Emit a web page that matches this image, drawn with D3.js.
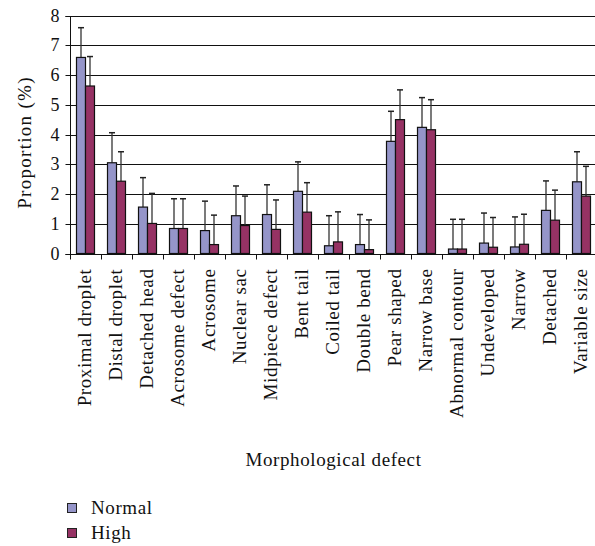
<!DOCTYPE html>
<html><head><meta charset="utf-8">
<script src="https://cdn.jsdelivr.net/npm/d3@7/dist/d3.min.js"></script>
<style>body{margin:0;background:#fff}svg{display:block}text{font-family:"Liberation Serif","Times New Roman",serif;fill:#111}</style>
</head><body>
<script>
const categories = ["Proximal droplet","Distal droplet","Detached head","Acrosome defect","Acrosome","Nuclear sac","Midpiece defect","Bent tail","Coiled tail","Double bend","Pear shaped","Narrow base","Abnormal contour","Undeveloped","Narrow","Detached","Variable size"];
const normalValues = [6.59,3.05,1.56,0.84,0.77,1.27,1.31,2.09,0.26,0.30,3.77,4.24,0.15,0.35,0.22,1.45,2.41];
const highValues   = [5.63,2.43,1.01,0.84,0.30,0.94,0.81,1.39,0.39,0.13,4.50,4.16,0.15,0.21,0.31,1.12,1.93];
const normalErrors = [1.00,1.01,0.99,1.00,0.99,1.00,1.00,0.99,1.01,1.01,1.01,1.00,1.00,1.01,1.01,0.99,1.01];
const highErrors   = [0.99,0.99,1.01,1.00,0.99,0.99,0.99,0.99,1.01,1.00,1.00,1.01,1.00,1.00,1.01,1.01,1.00];
const seriesNames = ["Normal","High"];
const yTicks = [0,1,2,3,4,5,6,7,8];

const W=595,H=546;
const m={left:70,top:15.5,right:597,bottom:253.5};
const colors={Normal:"#9595c9",High:"#963264"};
const svg=d3.select("body").append("svg").attr("width",W).attr("height",H);

const x=d3.scaleBand().domain(categories).range([m.left,m.right]).paddingInner(0).paddingOuter(0);
const y=d3.scaleLinear().domain([0,8]).range([m.bottom,m.top]);
const xs=d3.scaleBand().domain(seriesNames).range([0,18]);
const barOff=(x.bandwidth()-18)/2;

// gridlines
svg.append("g").selectAll("line").data(yTicks.filter(d=>d>0)).join("line")
  .attr("x1",m.left).attr("x2",m.right).attr("y1",d=>Math.round(y(d))+0.5).attr("y2",d=>Math.round(y(d))+0.5)
  .attr("stroke","#111").attr("stroke-width",1);

// y axis
const ya=svg.append("g").attr("transform",`translate(${m.left+0.5},0)`)
  .call(d3.axisLeft(y).tickValues(yTicks).tickSize(5).tickPadding(6).tickFormat(d3.format("d")));
ya.select(".domain").attr("stroke","#111").attr("d",`M-5,${Math.round(y(8))+0.5}H0V${Math.round(y(0))+0.5}H-5`);
ya.selectAll(".tick line").attr("stroke","#111");
ya.selectAll(".tick").attr("transform",d=>`translate(0,${Math.round(y(d))+0.5})`);
ya.selectAll("text").style("font-size","18px").style("font-family","Liberation Serif").attr("fill","#111");

const data=categories.map((c,i)=>({cat:c,vals:[
  {s:"Normal",v:normalValues[i],e:normalErrors[i]},
  {s:"High",v:highValues[i],e:highErrors[i]}]}));

const g=svg.append("g").selectAll("g").data(data).join("g")
  .attr("transform",d=>`translate(${x(d.cat)+barOff},0)`);
const bars=g.selectAll("g").data(d=>d.vals).join("g");
// error bars
bars.append("line").attr("x1",d=>xs(d.s)+xs.bandwidth()/2).attr("x2",d=>xs(d.s)+xs.bandwidth()/2)
  .attr("y1",d=>y(d.v)).attr("y2",d=>y(d.v+d.e)).attr("stroke","#333").attr("stroke-width",1.3);
bars.append("line").attr("x1",d=>xs(d.s)+xs.bandwidth()/2-3).attr("x2",d=>xs(d.s)+xs.bandwidth()/2+3)
  .attr("y1",d=>y(d.v+d.e)).attr("y2",d=>y(d.v+d.e)).attr("stroke","#222").attr("stroke-width",1.5);
bars.append("rect").attr("x",d=>xs(d.s)).attr("width",xs.bandwidth())
  .attr("y",d=>y(d.v)).attr("height",d=>y(0)-y(d.v))
  .attr("fill",d=>colors[d.s]).attr("stroke","#111").attr("stroke-width",1.2);

// x axis
const xa=svg.append("g").attr("transform",`translate(0,${Math.round(y(0))+0.5})`);
xa.append("line").attr("x1",m.left).attr("x2",m.right).attr("stroke","#111");
xa.selectAll("line.t").data(categories).join("line").attr("class","t")
  .attr("x1",d=>Math.round(x(d))+0.5).attr("x2",d=>Math.round(x(d))+0.5).attr("y1",0).attr("y2",5).attr("stroke","#111");
xa.selectAll("text").data(categories).join("text")
  .attr("transform",d=>`translate(${x(d)+x.bandwidth()/2+5},14) rotate(-90)`)
  .attr("text-anchor","end").style("font-size","19px").style("letter-spacing","0.6px").text(d=>d);

// titles
svg.append("text").attr("transform",`translate(31,${(m.top+m.bottom)/2+8}) rotate(-90)`)
  .attr("text-anchor","middle").style("font-size","19px").style("letter-spacing","1.3px").text("Proportion (%)");
svg.append("text").attr("x",(m.left+m.right)/2).attr("y",466).attr("text-anchor","middle")
  .style("font-size","19px").style("letter-spacing","0.6px").text("Morphological defect");

// legend
const lg=svg.append("g").selectAll("g").data(seriesNames).join("g")
  .attr("transform",(d,i)=>`translate(67,${503+i*25})`);
lg.append("rect").attr("x",0.5).attr("y",0.5).attr("width",9).attr("height",9)
  .attr("fill",d=>colors[d]).attr("stroke","#222");
lg.append("text").attr("x",24).attr("y",11).style("font-size","19px").style("letter-spacing","0.6px").text(d=>d);
</script>
</body></html>
